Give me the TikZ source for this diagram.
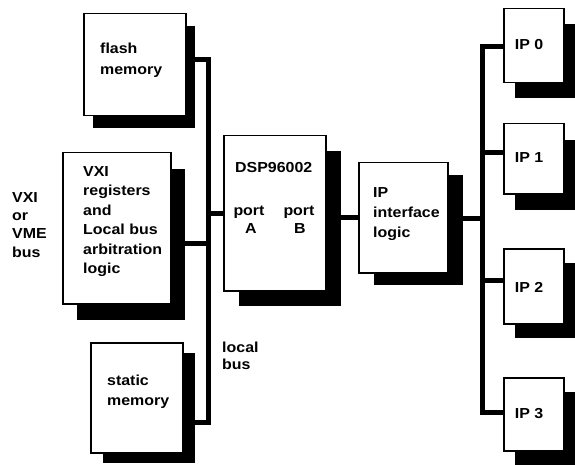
\documentclass[tikz,border=0pt]{standalone}
\usepackage{fontspec}
\setmainfont{Liberation Sans}[FakeStretch=1.1]
\begin{document}
\begin{tikzpicture}[x=1pt,y=-1pt,
  box/.style={draw=black, line width=1.5pt, fill=white, anchor=north west, inner sep=0pt},
  bus/.style={line width=5pt, line join=miter},
  lbl/.style={anchor=base west, inner sep=0pt, font=\bfseries\fontsize{14.5}{17}\selectfont},
  clbl/.style={anchor=base, inner sep=0pt, font=\bfseries\fontsize{14.5}{17}\selectfont}]
\useasboundingbox[fill=white] (0,0) rectangle (575,465);
\newcommand\shbox[7]{%
  \fill[black] (#2+#6,#3+#7) rectangle ++(#4,#5);
  \node[box, minimum width=#4pt, minimum height=#5pt] (#1) at (#2,#3) {};}
% boxes with shadows
\shbox{flash}{83}{13}{102}{102}{10}{13}
\shbox{vxi}{62}{152}{108}{151}{15}{17}
\shbox{static}{90}{342}{92}{110}{13}{11}
\shbox{dsp}{223}{135}{102}{155}{16}{16}
\shbox{ipif}{358}{162}{89}{110}{16}{13}
\shbox{ipa}{503}{8}{60}{74}{12}{16}
\shbox{ipb}{503}{123}{60}{70}{12}{17}
\shbox{ipc}{503}{248}{60}{75}{12}{15}
\shbox{ipd}{503}{377}{60}{73}{12}{15}
% bus coordinates
\coordinate (lt) at (208,60);
\coordinate (lb) at (208,422);
\coordinate (vb) at (208,243);
\coordinate (db) at (208,213);
\coordinate (dc) at (340,217);
\coordinate (rt) at (482,47);
\coordinate (rb) at (482,412);
\coordinate (r1) at (482,153);
\coordinate (r2) at (482,280);
\coordinate (ri) at (482,218);
% local bus
\draw[bus] (flash.east |- lt) -- (lt) -- (lb) -- (static.east |- lb);
\draw[bus] (vxi.east |- vb) -- (vb);
\draw[bus] (db) -- (dsp.west |- db);
\draw[bus] (dsp.east |- dc) -- (ipif.west |- dc);
% IP bus
\draw[bus] (ipa.west |- rt) -- (rt) -- (rb) -- (ipd.west |- rb);
\draw[bus] (ipif.east |- ri) -- (ri);
\draw[bus] (r1) -- (ipb.west |- r1);
\draw[bus] (r2) -- (ipc.west |- r2);
% texts
\node[lbl] (t1) at (100,54) {flash};
\node[lbl] (t2) at (100,75) {memory};
\node[lbl] (t3) at (83,176) {VXI};
\node[lbl] (t4) at (83,195.5) {registers};
\node[lbl] (t5) at (83,215) {and};
\node[lbl] (t6) at (83,234.5) {Local bus};
\node[lbl] (t7) at (83,254) {arbitration};
\node[lbl] (t8) at (83,273.5) {logic};
\node[lbl] (t9) at (12,202) {VXI};
\node[lbl] (t10) at (12,220) {or};
\node[lbl] (t11) at (12,238) {VME};
\node[lbl] (t12) at (12,257) {bus};
\node[lbl] (t13) at (107,385) {static};
\node[lbl] (t14) at (107,405) {memory};
\node[lbl] (t15) at (222,352) {local};
\node[lbl] (t16) at (222,369) {bus};
\node[lbl] (t17) at (235,172) {DSP96002};
\node[clbl] (t18) at (249,215) {port};
\node[clbl] (t19) at (251,233) {A};
\node[clbl] (t20) at (299,215) {port};
\node[clbl] (t21) at (300,233) {B};
\node[lbl] (t22) at (373,197) {IP};
\node[lbl] (t23) at (373,217) {interface};
\node[lbl] (t24) at (373,237) {logic};
\node[clbl] (t25) at (529,50) {IP 0};
\node[clbl] (t26) at (529,163) {IP 1};
\node[clbl] (t27) at (529,292) {IP 2};
\node[clbl] (t28) at (529,418) {IP 3};
\end{tikzpicture}
\end{document}
